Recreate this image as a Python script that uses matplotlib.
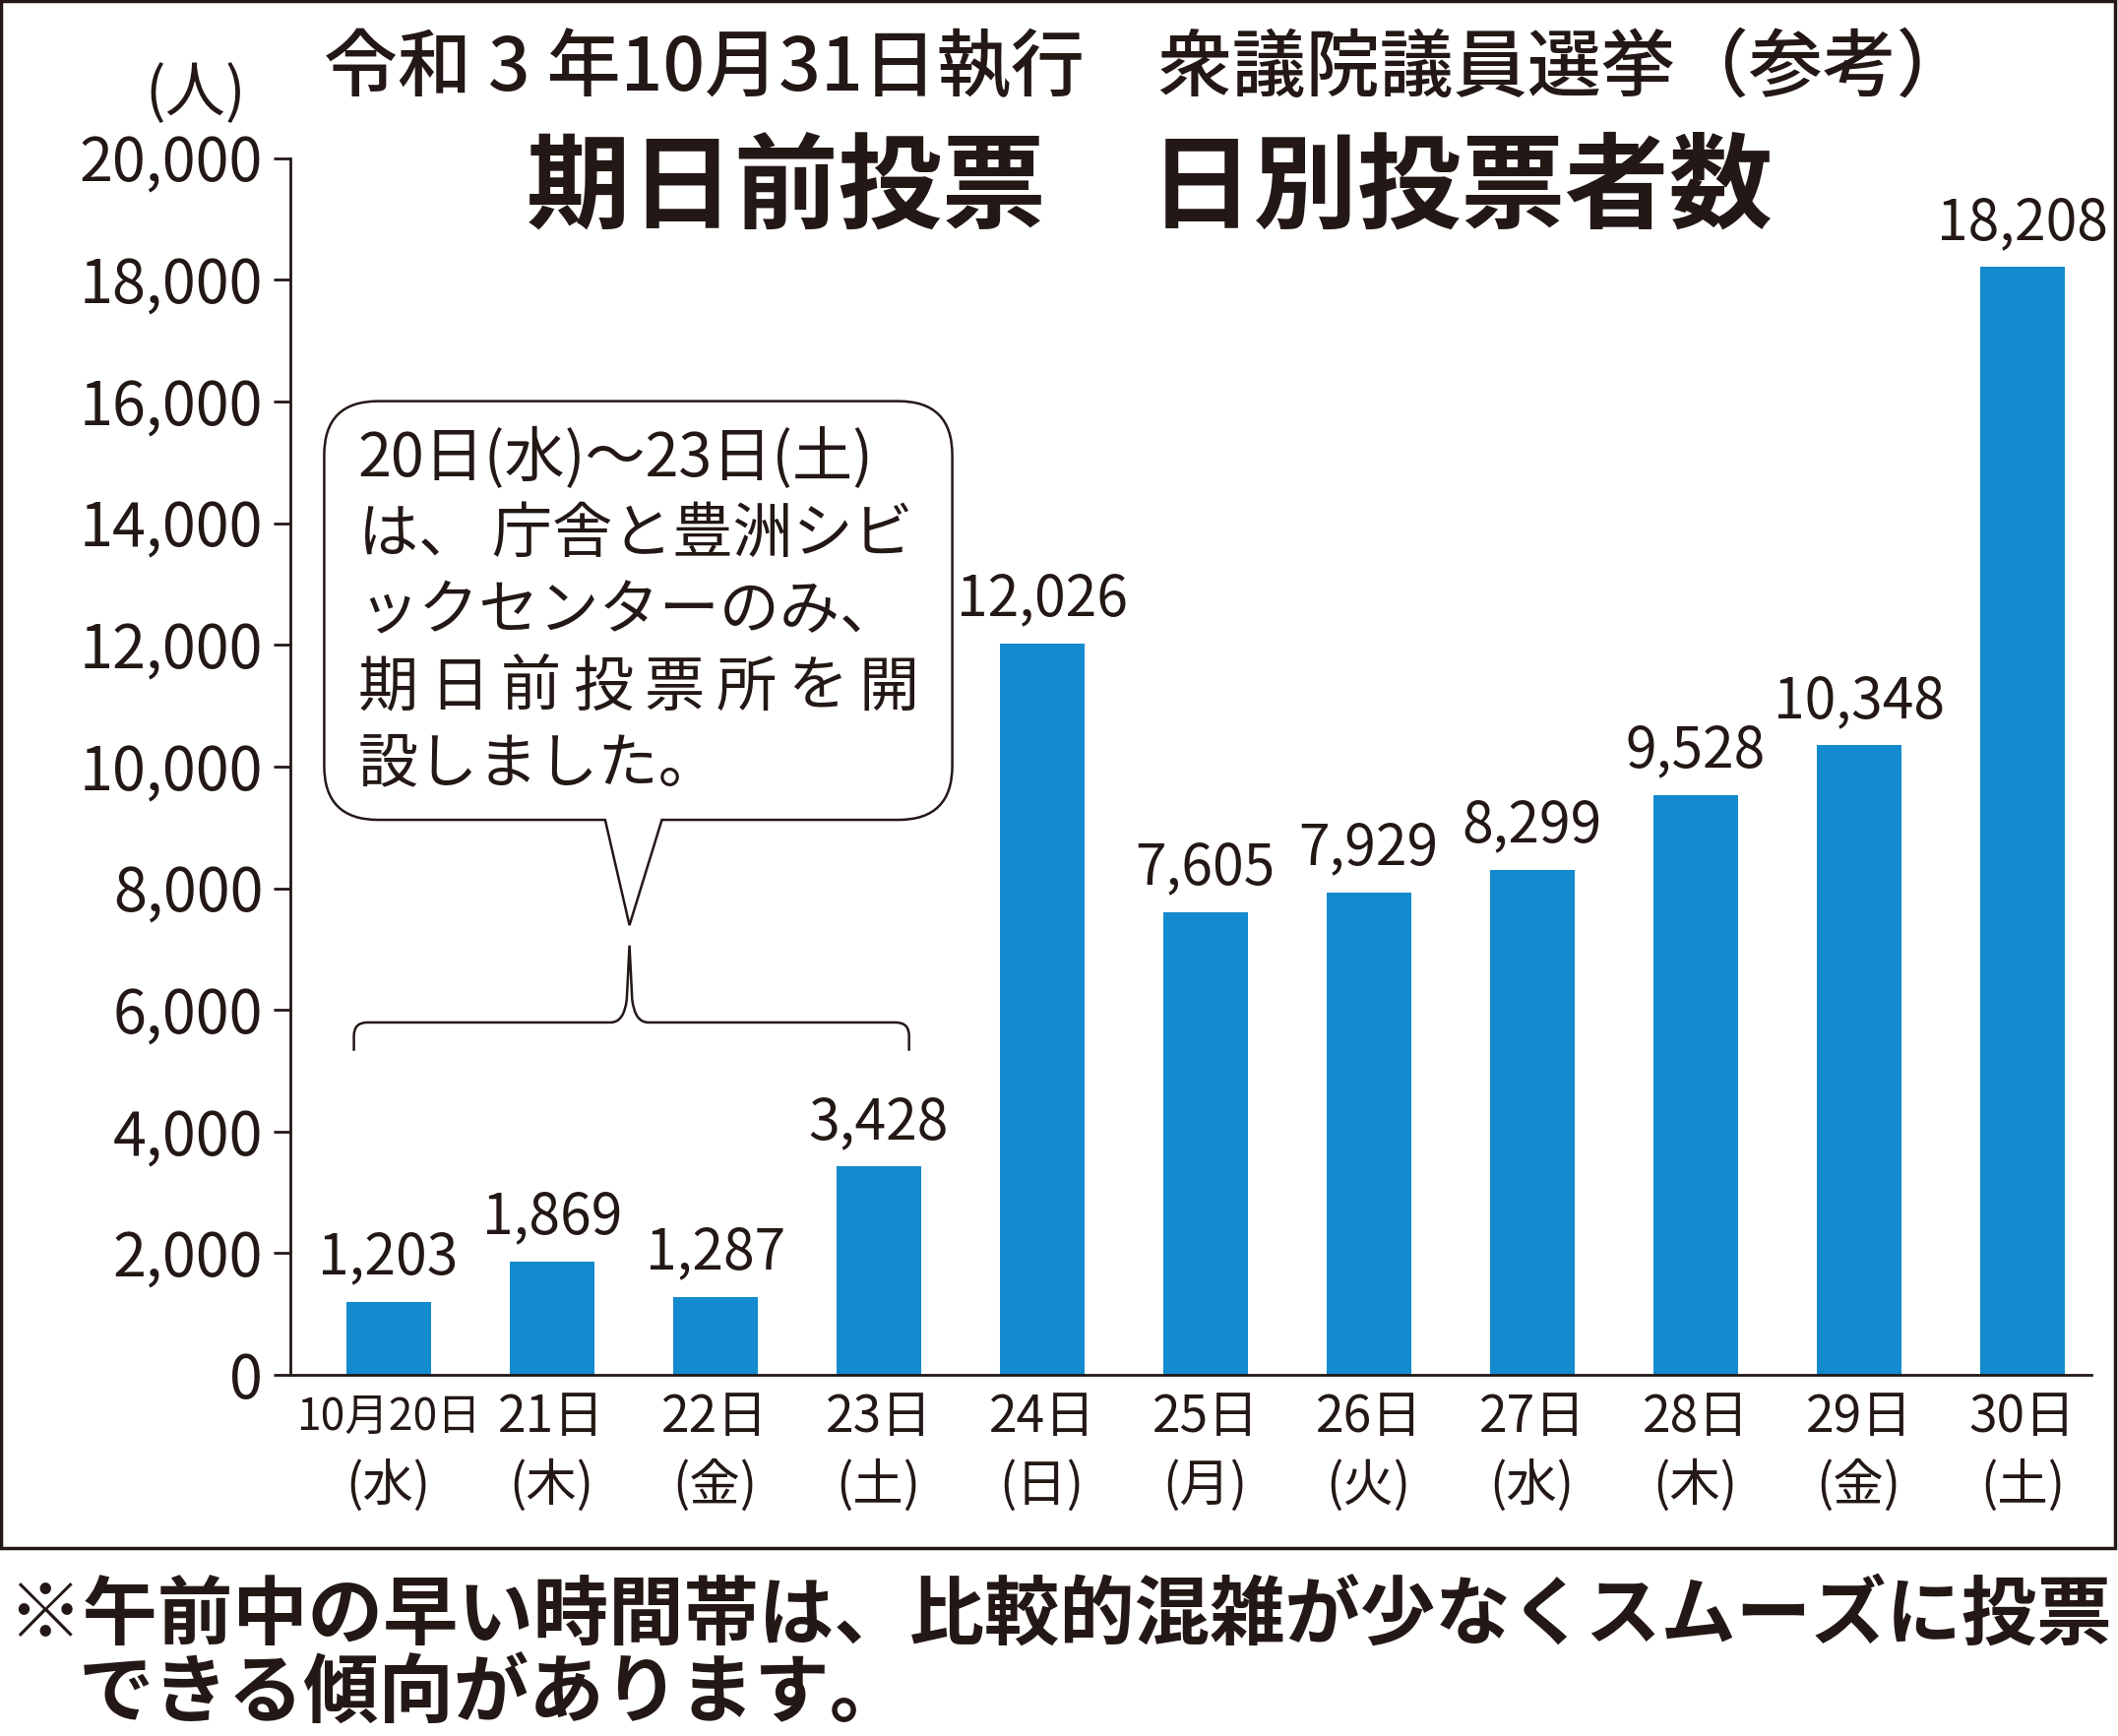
import matplotlib.pyplot as plt
from matplotlib.path import Path
from matplotlib.patches import PathPatch, Rectangle

plt.rcParams['font.family'] = ['Noto Sans CJK JP', 'DejaVu Sans']

# データ
days = ['10月20日', '21日', '22日', '23日', '24日', '25日', '26日', '27日', '28日', '29日', '30日']
weekdays = ['(水)', '(木)', '(金)', '(土)', '(日)', '(月)', '(火)', '(水)', '(木)', '(金)', '(土)']
voters = [1203, 1869, 1287, 3428, 12026, 7605, 7929, 8299, 9528, 10348, 18208]
yticks = list(range(0, 20001, 2000))

W, H = 2152, 1764
S = W / 1568  # 参照画像(縮小版)の座標から変換


def fp(x, y):
    return (x * S / W, 1 - y * S / H)


fig = plt.figure(figsize=(W / 100, H / 100), dpi=100)
ax = fig.add_axes([fp(215, 0)[0], fp(0, 1018)[1],
                   fp(1548, 0)[0] - fp(215, 0)[0], fp(0, 117)[1] - fp(0, 1018)[1]])

x = list(range(len(voters)))
bars = ax.bar(x, voters, width=0.52, color='#138bce', zorder=2)
for xi, v in zip(x, voters):
    ax.text(xi, v + 250, f'{v:,}', ha='center', va='bottom', fontsize=41, color='#231815')

ax.set_xlim(-0.6, 10.42)
ax.set_ylim(0, 20000)
ax.set_yticks(yticks)
ax.set_yticklabels([f'{t:,}' for t in yticks], fontsize=44, color='#231815')
ax.set_xticks(x)
ax.set_xticklabels(days, fontsize=37, color='#231815', va='center')
ax.get_xticklabels()[0].set_fontsize(32)  # 一つ目だけ長いので詰める
for xi, w in zip(x, weekdays):
    ax.text(xi, -0.091, w, transform=ax.get_xaxis_transform(), ha='center', va='center',
            fontsize=37, color='#231815')
ax.tick_params(axis='y', length=12, width=2, pad=8, color='#231815')
ax.tick_params(axis='x', length=0, pad=31)
for s in ['top', 'right']:
    ax.spines[s].set_visible(False)
for s in ['left', 'bottom']:
    ax.spines[s].set_linewidth(2)
    ax.spines[s].set_color('#231815')

# 外枠
fig.patches.append(Rectangle(fp(1, 1146), fp(1566, 0)[0] - fp(1, 0)[0], fp(0, 1)[1] - fp(0, 1146)[1],
                             transform=fig.transFigure, fill=False, lw=2.5, ec='#231815'))

# タイトル
fig.text(*fp(849, 52), '令和 3 年10月31日執行　衆議院議員選挙（参考）', ha='center', va='center',
         fontsize=54, fontweight='medium', color='#231815')
fig.text(*fp(851, 140), '期日前投票　日別投票者数', ha='center', va='center',
         fontsize=76, fontweight='bold', color='#231815')
fig.text(*fp(145, 70), '(人)', ha='center', va='center', fontsize=44, color='#231815')

# 吹き出し
M, L, Q, C = Path.MOVETO, Path.LINETO, Path.CURVE3, Path.CLOSEPOLY
pts = [(280, 297), (665, 297), (705, 297), (705, 337), (705, 567), (705, 607), (665, 607),
       (490, 607), (466, 685), (448, 607), (280, 607), (240, 607), (240, 567), (240, 337),
       (240, 297), (280, 297), (280, 297)]
codes = [M, L, Q, Q, L, Q, Q, L, L, L, L, Q, Q, L, Q, Q, C]
fig.patches.append(PathPatch(Path([fp(*p) for p in pts], codes), transform=fig.transFigure,
                             fc='white', ec='#231815', lw=1.8, zorder=3))
lines = ['20日(水)～23日(土)', 'は、 庁舎と豊洲シビ', 'ックセンターのみ、', '期日前投票所を開', '設しました。']
for i, t in enumerate(lines):
    if i == 3:
        for j, ch in enumerate(t):
            fig.text(*fp(265 + j * 53, 340 + i * 56.5), ch, ha='left', va='center',
                     fontsize=44, color='#231815', zorder=4)
    else:
        fig.text(*fp(265, 340 + i * 56.5), t, ha='left', va='center', fontsize=44,
                 color='#231815', zorder=4)

# 中括弧
bp = [(262, 778), (262, 767), (262, 757), (272, 757), (452, 757), (462, 757), (464, 740),
      (466, 700), (468, 740), (470, 757), (480, 757), (663, 757), (673, 757), (673, 767), (673, 778)]
bc = [M, L, Q, Q, L, Q, Q, L, L, Q, Q, L, Q, Q, L]
fig.patches.append(PathPatch(Path([fp(*p) for p in bp], bc), transform=fig.transFigure,
                             fill=False, ec='#231815', lw=1.8))

# 注記
fig.text(*fp(5, 1196), '※午前中の早い時間帯は、比較的混雑が少なくスムーズに投票', ha='left', va='center',
         fontsize=55, fontweight='bold', color='#231815')
fig.text(*fp(58, 1255), 'できる傾向があります。', ha='left', va='center',
         fontsize=55, fontweight='bold', color='#231815')

fig.savefig('out.png', dpi=100)
